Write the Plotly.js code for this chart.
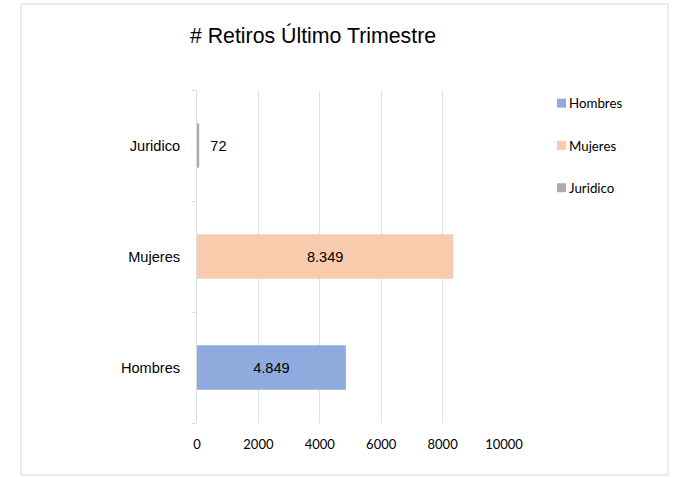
<!DOCTYPE html>
<html>
<head>
<meta charset="utf-8">
<script src="https://cdn.plot.ly/plotly-3.0.1.min.js"></script>
<style>
  html, body { margin: 0; padding: 0; background: #ffffff; }
  #chart { width: 680px; height: 477px; }
</style>
</head>
<body>
<div id="chart"></div>
<script>
// ---- data ----
const categories = ["Hombres", "Mujeres", "Juridico"];
const seriesNames = ["Hombres", "Mujeres", "Juridico"];
const seriesValues = [4849, 8349, 72];
const seriesColors = ["#8FAADC", "#F8CBAD", "#AFABAB"];
const xTickValues = [0, 2000, 4000, 6000, 8000, 10000];
const chartTitle = "# Retiros Último Trimestre";

// ---- layout geometry (pixels) ----
const W = 680, H = 477;
const mL = 197, mR = 176, mT = 90, mB = 54;
const plotW = W - mL - mR, plotH = H - mT - mB;
function px2paperX(px) { return (px - mL) / plotW; }
function px2paperY(py) { return (H - mB - py) / plotH; }

const labelFont = { family: "Arial, 'Liberation Sans', sans-serif", size: 14.6, color: "#000000" };

const traces = seriesNames.map((name, i) => {
  const isSmall = seriesValues[i] < 1000;
  return {
    type: "bar",
    orientation: "h",
    name: name,
    legendgroup: name,
    x: [seriesValues[i]],
    y: [categories[i]],
    width: 0.4,
    marker: { color: seriesColors[i], line: { width: 0 } },
    texttemplate: isSmall ? "\u00a0\u00a0%{x:,}" : "%{x:,}",
    textposition: isSmall ? "outside" : "inside",
    insidetextanchor: "middle",
    textangle: 0,
    constraintext: "none",
    textfont: labelFont,
    insidetextfont: labelFont,
    outsidetextfont: labelFont,
    cliponaxis: false,
    hoverinfo: "x+y"
  };
});

const layout = {
  width: W,
  height: H,
  paper_bgcolor: "#ffffff",
  plot_bgcolor: "#ffffff",
  separators: ",.",
  barmode: "overlay",
  margin: { l: mL, r: mR, t: mT, b: mB, pad: 0 },
  title: {
    text: chartTitle,
    font: { family: "Arial, 'Liberation Sans', sans-serif", size: 21.3, color: "#000000" },
    xref: "container", yref: "container",
    x: 313 / W, xanchor: "center",
    y: 1 - 36 / H, yanchor: "middle"
  },
  xaxis: {
    range: [0, 10000],
    tickvals: xTickValues,
    tickformat: "d",
    showgrid: true,
    gridcolor: "#DDE3EA",
    gridwidth: 1,
    zeroline: false,
    showline: false,
    ticks: "",
    ticklabelstandoff: 12,
    tickfont: { family: "Lato, Carlito, sans-serif", size: 13, color: "#000000" },
    fixedrange: true
  },
  yaxis: {
    type: "category",
    categoryorder: "array",
    categoryarray: categories,
    showgrid: false,
    zeroline: false,
    showline: true,
    linecolor: "#D9DEE5",
    linewidth: 1,
    ticks: "outside",
    tickson: "boundaries",
    ticklen: 4,
    tickcolor: "#D9DEE5",
    ticklabelstandoff: 13,
    tickfont: labelFont,
    fixedrange: true
  },
  showlegend: true,
  legend: {
    xref: "container", yref: "container",
    x: 529 / W, xanchor: "left",
    y: 1 - 88 / H, yanchor: "top",
    traceorder: "grouped",
    tracegroupgap: 22,
    bgcolor: "rgba(0,0,0,0)",
    borderwidth: 0,
    font: { family: "Lato, Carlito, sans-serif", size: 13.3, color: "#000000" }
  },
  shapes: [{
    type: "rect",
    xref: "paper", yref: "paper",
    x0: px2paperX(21), x1: px2paperX(668),
    y0: px2paperY(475), y1: px2paperY(4),
    line: { color: "#D9D9D9", width: 1 },
    fillcolor: "rgba(0,0,0,0)",
    layer: "below"
  }]
};

function shrinkSwatches() {
  // smaller legend swatches placed close to the text, as in the reference
  document.querySelectorAll("#chart .legend .legendpoints path").forEach(p => {
    p.setAttribute("d", "M17,4.5H8V-4.5H17Z");
  });
}

const gd = document.getElementById("chart");
Plotly.newPlot(gd, traces, layout, { displayModeBar: false, staticPlot: true }).then(() => {
  shrinkSwatches();
  gd.on("plotly_afterplot", shrinkSwatches);
  setTimeout(shrinkSwatches, 50);
  setTimeout(shrinkSwatches, 300);
});
</script>
</body>
</html>
